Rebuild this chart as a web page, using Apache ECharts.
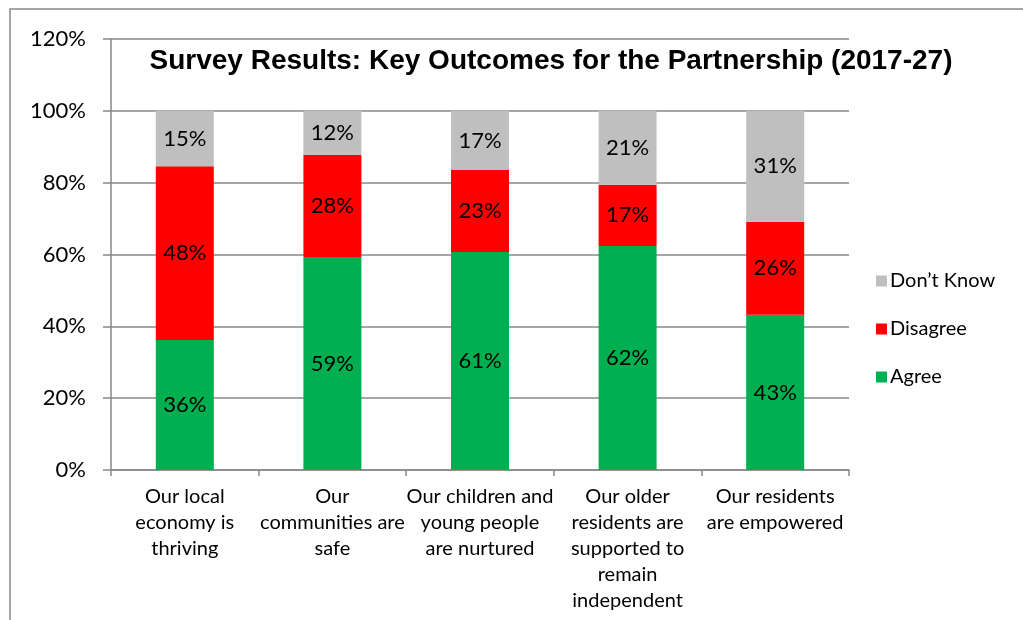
<!DOCTYPE html>
<html><head><meta charset="utf-8">
<script src="https://cdn.jsdelivr.net/npm/echarts@6/dist/echarts.min.js"></script>
<style>html,body{margin:0;padding:0;background:#fff}#c{width:1023px;height:620px}</style>
</head><body><div id="c"></div>
<script>
const categories = ["Our local\neconomy is\nthriving","Our\ncommunities are\nsafe","Our children and\nyoung people\nare nurtured","Our older\nresidents are\nsupported to\nremain\nindependent","Our residents\nare empowered"];
const agree = [36.2, 59.3, 60.7, 62.4, 43.2];
const disagree = [48.4, 28.4, 22.8, 17.0, 25.9];
const dontKnow = [15.4, 12.3, 16.5, 20.6, 30.9];
const yTicks = [0, 20, 40, 60, 80, 100, 120];

const chart = echarts.init(document.getElementById('c'));
const font = 'Lato, "Open Sans", sans-serif';
const lbl = {show:true, position:'inside', color:'#000', fontSize:22, fontFamily:font,
  formatter: p => Math.round(p.value) + '%'};
chart.setOption({
  animation:false,
  graphic:[{type:'rect', shape:{x:10,y:9,width:1040,height:640}, style:{fill:'none', stroke:'#898989', lineWidth:1.5}, silent:true}],
  title:{text:'Survey Results: Key Outcomes for the Partnership (2017-27)', left:546, top:42, textAlign:'center',
    textStyle:{fontFamily:'"Liberation Sans", Arial, sans-serif', fontWeight:'bold', fontSize:28, color:'#000'}},
  legend:{orient:'vertical', left:871, top:266, itemWidth:11, itemHeight:11, itemGap:28, itemStyle:{borderWidth:0},
    icon:'rect', data:['Don\u2019t Know','Disagree','Agree'],
    textStyle:{fontFamily:font, fontSize:20, color:'#000', padding:[0,0,0,-2]}},
  grid:{left:111, right:174, top:39, bottom:150, containLabel:false},
  xAxis:{type:'category', data:categories,
    axisLine:{lineStyle:{color:'#898989', width:1.5}},
    axisTick:{show:true, length:6, lineStyle:{color:'#898989', width:1.5}},
    axisLabel:{interval:0, color:'#000', fontFamily:font, fontSize:20, lineHeight:26, margin:14}},
  yAxis:{type:'value', min:0, max:120, interval:20,
    axisLine:{show:true, lineStyle:{color:'#898989', width:1.5}},
    axisTick:{show:true, length:8, lineStyle:{color:'#898989', width:1.5}},
    splitLine:{lineStyle:{color:'#898989', width:1.5}},
    axisLabel:{formatter: v => yTicks.includes(v) ? v + '%' : '', color:'#000', fontFamily:font, fontSize:22, margin:25}},
  series:[
    {name:'Agree', type:'bar', stack:'s', data:agree, barWidth:58, itemStyle:{color:'#00B050'}, label:lbl},
    {name:'Disagree', type:'bar', stack:'s', data:disagree, barWidth:58, itemStyle:{color:'#FF0000'}, label:lbl},
    {name:'Don\u2019t Know', type:'bar', stack:'s', data:dontKnow, barWidth:58, itemStyle:{color:'#BFBFBF'}, label:lbl}
  ]
});
</script></body></html>
